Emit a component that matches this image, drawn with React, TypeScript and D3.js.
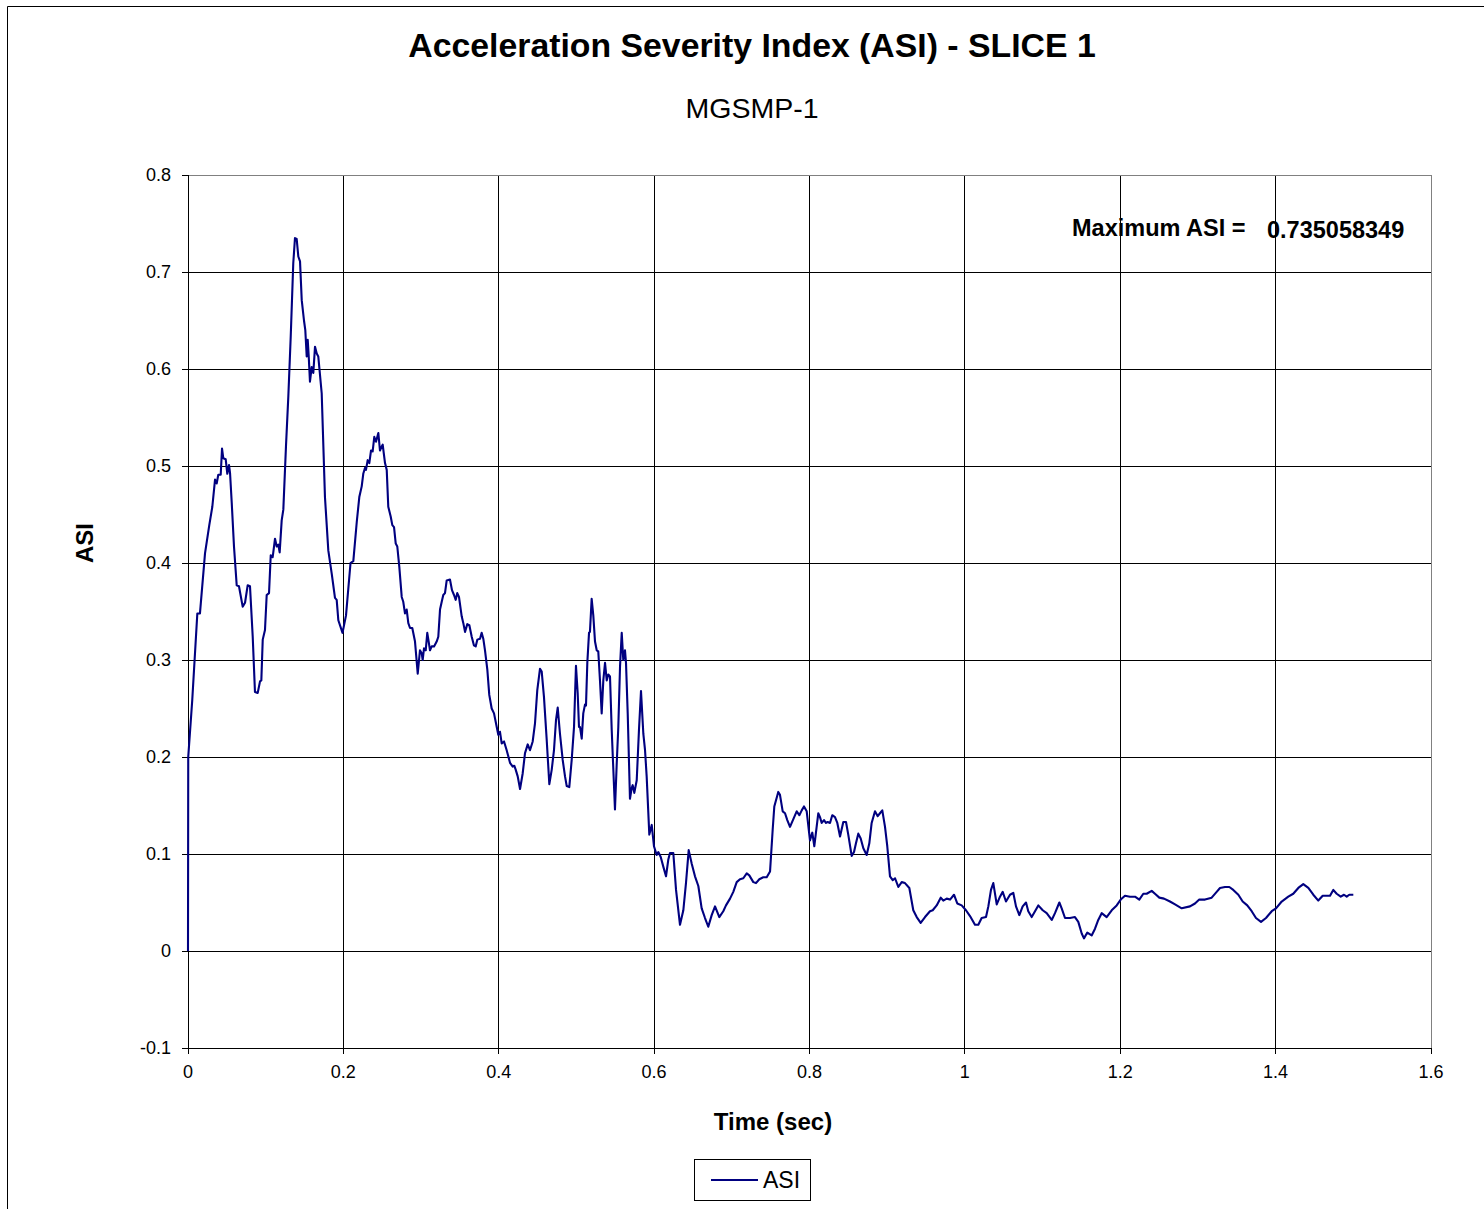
import React from "react";
import * as d3 from "d3";

const timeSec = [
  0, 0.0003, 0.0055, 0.012, 0.0154, 0.0219, 0.0274, 0.0313, 0.0348, 0.0369, 0.039, 0.0421, 0.0438, 0.0454, 0.0485,
  0.0506, 0.0528, 0.0541, 0.0563, 0.0592, 0.0627, 0.0656, 0.0704, 0.0734, 0.0768, 0.0798, 0.0833, 0.0862, 0.0897,
  0.0927, 0.0944, 0.0962, 0.0991, 0.1013, 0.1043, 0.1065, 0.109, 0.112, 0.1142, 0.1162, 0.118, 0.1206, 0.1227,
  0.1261, 0.1291, 0.1322, 0.1355, 0.1377, 0.1399, 0.142, 0.1442, 0.1464, 0.1493, 0.151, 0.1528, 0.1541, 0.1554,
  0.157, 0.1592, 0.1613, 0.1635, 0.1657, 0.1677, 0.1721, 0.1763, 0.1806, 0.185, 0.1892, 0.1914, 0.1935, 0.1989,
  0.2034, 0.2092, 0.2128, 0.2172, 0.2205, 0.2236, 0.2256, 0.2278, 0.2291, 0.2313, 0.2334, 0.2356, 0.2377, 0.2398,
  0.242, 0.245, 0.2471, 0.2493, 0.2506, 0.2536, 0.2558, 0.2578, 0.2609, 0.263, 0.2652, 0.2674, 0.2694, 0.272,
  0.2751, 0.2771, 0.2793, 0.2815, 0.2836, 0.2858, 0.2887, 0.2922, 0.2957, 0.2986, 0.3008, 0.3021, 0.3038, 0.306,
  0.308, 0.3098, 0.3115, 0.3137, 0.3167, 0.3201, 0.3222, 0.3244, 0.3266, 0.3286, 0.3308, 0.333, 0.3372, 0.3398,
  0.3424, 0.3446, 0.3466, 0.3488, 0.3523, 0.3544, 0.3566, 0.3595, 0.3621, 0.3652, 0.3681, 0.3703, 0.3724, 0.3759,
  0.378, 0.3801, 0.3823, 0.3853, 0.3878, 0.3909, 0.3939, 0.3974, 0.3994, 0.4016, 0.4038, 0.4068, 0.4102, 0.4145,
  0.418, 0.42, 0.4218, 0.4244, 0.4274, 0.4308, 0.4338, 0.4373, 0.4402, 0.4437, 0.4467, 0.4496, 0.4531, 0.4553,
  0.4582, 0.4617, 0.4651, 0.4682, 0.4711, 0.4737, 0.4759, 0.4788, 0.4823, 0.4853, 0.4875, 0.4908, 0.4939, 0.4969,
  0.4994, 0.5016, 0.5033, 0.5046, 0.5068, 0.5088, 0.511, 0.5123, 0.514, 0.5162, 0.5174, 0.5196, 0.5217, 0.5239,
  0.5261, 0.5281, 0.5303, 0.5325, 0.5346, 0.5368, 0.539, 0.541, 0.5432, 0.5454, 0.5496, 0.5518, 0.5539, 0.5561,
  0.5583, 0.5603, 0.5625, 0.5638, 0.566, 0.5689, 0.5711, 0.5724, 0.5745, 0.5776, 0.5805, 0.5831, 0.5861, 0.5883,
  0.5904, 0.5938, 0.5969, 0.5998, 0.6033, 0.6054, 0.6085, 0.6118, 0.6153, 0.6182, 0.6204, 0.6247, 0.6282, 0.6333,
  0.6376, 0.641, 0.6445, 0.6484, 0.6526, 0.6569, 0.6612, 0.6655, 0.6697, 0.6741, 0.6784, 0.6839, 0.689, 0.6925,
  0.6977, 0.7019, 0.7063, 0.7105, 0.7148, 0.7192, 0.7225, 0.7277, 0.7311, 0.7354, 0.7405, 0.7449, 0.7492, 0.7526,
  0.7547, 0.7598, 0.762, 0.7655, 0.7685, 0.7714, 0.7749, 0.7792, 0.7835, 0.7869, 0.79, 0.7929, 0.7964, 0.8006,
  0.8036, 0.8062, 0.8113, 0.8135, 0.8157, 0.8187, 0.8212, 0.8234, 0.8264, 0.8293, 0.8328, 0.8358, 0.8393, 0.8435,
  0.847, 0.8499, 0.8543, 0.8573, 0.8598, 0.8628, 0.8659, 0.8693, 0.8736, 0.877, 0.88, 0.8843, 0.8878, 0.8907,
  0.8937, 0.8972, 0.9001, 0.9036, 0.9071, 0.9101, 0.9143, 0.9187, 0.9229, 0.9285, 0.9336, 0.938, 0.9431, 0.9487,
  0.9551, 0.9586, 0.9637, 0.9689, 0.9722, 0.9766, 0.9809, 0.986, 0.9902, 0.9959, 1.0014, 1.0066, 1.013, 1.0173,
  1.0216, 1.0272, 1.0302, 1.0336, 1.0366, 1.041, 1.0452, 1.0487, 1.0529, 1.0581, 1.0623, 1.0658, 1.0701, 1.0744,
  1.0787, 1.0816, 1.086, 1.0903, 1.0945, 1.1002, 1.1053, 1.1118, 1.116, 1.1216, 1.1246, 1.1289, 1.1353, 1.1417,
  1.146, 1.1504, 1.1533, 1.1576, 1.1632, 1.1675, 1.1717, 1.1761, 1.1825, 1.189, 1.1954, 1.2006, 1.2061, 1.2125,
  1.219, 1.2245, 1.2297, 1.234, 1.2405, 1.2447, 1.2503, 1.2563, 1.264, 1.2705, 1.2791, 1.2898, 1.2962, 1.3017,
  1.3091, 1.3177, 1.3241, 1.3284, 1.3348, 1.3404, 1.3455, 1.352, 1.3576, 1.3635, 1.3692, 1.3747, 1.3812, 1.3876,
  1.395, 1.4005, 1.4078, 1.4163, 1.4227, 1.4292, 1.4356, 1.4421, 1.4485, 1.4549, 1.4606, 1.4657, 1.47, 1.4742,
  1.4786, 1.4838, 1.488, 1.4915, 1.4948, 1.5,
];

const asiValues = [
  0, 0.2, 0.259, 0.348, 0.348, 0.41, 0.439, 0.458, 0.486, 0.482, 0.491, 0.491, 0.518, 0.508, 0.507,
  0.492, 0.501, 0.493, 0.462, 0.417, 0.377, 0.376, 0.355, 0.359, 0.377, 0.376, 0.324, 0.267, 0.266,
  0.278, 0.279, 0.321, 0.331, 0.367, 0.369, 0.408, 0.406, 0.425, 0.417, 0.419, 0.411, 0.444, 0.455,
  0.52, 0.571, 0.633, 0.709, 0.735, 0.734, 0.716, 0.711, 0.671, 0.65, 0.64, 0.613, 0.63, 0.613,
  0.587, 0.602, 0.596, 0.623, 0.616, 0.613, 0.575, 0.468, 0.413, 0.389, 0.364, 0.362, 0.341, 0.328,
  0.346, 0.4, 0.402, 0.442, 0.468, 0.479, 0.492, 0.498, 0.496, 0.506, 0.503, 0.516, 0.515, 0.53,
  0.525, 0.534, 0.516, 0.52, 0.522, 0.503, 0.496, 0.458, 0.448, 0.439, 0.437, 0.42, 0.417, 0.396,
  0.365, 0.36, 0.348, 0.352, 0.338, 0.333, 0.333, 0.319, 0.286, 0.31, 0.307, 0.3, 0.312, 0.31,
  0.328, 0.319, 0.31, 0.314, 0.314, 0.319, 0.324, 0.352, 0.36, 0.367, 0.369, 0.382, 0.383, 0.372,
  0.367, 0.362, 0.369, 0.365, 0.345, 0.338, 0.329, 0.337, 0.336, 0.324, 0.315, 0.314, 0.321, 0.322,
  0.328, 0.322, 0.31, 0.29, 0.264, 0.25, 0.245, 0.231, 0.223, 0.226, 0.214, 0.216, 0.207, 0.194,
  0.19, 0.191, 0.187, 0.18, 0.167, 0.183, 0.204, 0.213, 0.207, 0.216, 0.235, 0.269, 0.291, 0.288,
  0.262, 0.218, 0.172, 0.187, 0.207, 0.238, 0.251, 0.224, 0.197, 0.18, 0.17, 0.169, 0.197, 0.231,
  0.294, 0.266, 0.231, 0.231, 0.219, 0.245, 0.254, 0.253, 0.297, 0.328, 0.329, 0.363, 0.346, 0.319,
  0.31, 0.309, 0.279, 0.245, 0.279, 0.297, 0.279, 0.285, 0.283, 0.228, 0.146, 0.192, 0.231, 0.293,
  0.328, 0.3, 0.31, 0.297, 0.245, 0.157, 0.168, 0.171, 0.163, 0.176, 0.228, 0.268, 0.224, 0.207,
  0.18, 0.12, 0.13, 0.108, 0.099, 0.102, 0.097, 0.087, 0.077, 0.094, 0.101, 0.101, 0.063, 0.027,
  0.042, 0.07, 0.104, 0.09, 0.077, 0.067, 0.044, 0.034, 0.025, 0.037, 0.046, 0.035, 0.041, 0.047,
  0.054, 0.061, 0.071, 0.074, 0.075, 0.08, 0.078, 0.071, 0.07, 0.074, 0.076, 0.076, 0.082, 0.125,
  0.149, 0.164, 0.161, 0.144, 0.142, 0.135, 0.128, 0.136, 0.144, 0.14, 0.145, 0.149, 0.144, 0.114,
  0.122, 0.108, 0.142, 0.138, 0.132, 0.135, 0.132, 0.133, 0.132, 0.14, 0.138, 0.132, 0.118, 0.133,
  0.133, 0.12, 0.098, 0.102, 0.111, 0.121, 0.116, 0.106, 0.099, 0.111, 0.132, 0.144, 0.139, 0.142,
  0.145, 0.128, 0.108, 0.077, 0.073, 0.075, 0.066, 0.071, 0.07, 0.065, 0.042, 0.035, 0.029, 0.035,
  0.041, 0.042, 0.047, 0.055, 0.052, 0.054, 0.053, 0.058, 0.049, 0.047, 0.042, 0.036, 0.027, 0.027,
  0.034, 0.035, 0.046, 0.063, 0.07, 0.048, 0.056, 0.061, 0.051, 0.058, 0.06, 0.046, 0.037, 0.046,
  0.05, 0.041, 0.035, 0.041, 0.047, 0.042, 0.039, 0.032, 0.039, 0.05, 0.044, 0.034, 0.034, 0.035,
  0.03, 0.018, 0.013, 0.019, 0.016, 0.023, 0.032, 0.039, 0.035, 0.042, 0.047, 0.053, 0.057, 0.056,
  0.056, 0.053, 0.059, 0.059, 0.062, 0.059, 0.055, 0.054, 0.051, 0.048, 0.044, 0.046, 0.049, 0.053,
  0.053, 0.055, 0.061, 0.065, 0.066, 0.066, 0.063, 0.058, 0.051, 0.047, 0.041, 0.034, 0.03, 0.034,
  0.041, 0.044, 0.051, 0.056, 0.059, 0.065, 0.069, 0.065, 0.058, 0.052, 0.057, 0.057, 0.057, 0.063,
  0.059, 0.056, 0.058, 0.056, 0.058, 0.058,
];

const xTicks = [0, 0.2, 0.4, 0.6, 0.8, 1, 1.2, 1.4, 1.6];
const yTicks = [-0.1, 0, 0.1, 0.2, 0.3, 0.4, 0.5, 0.6, 0.7, 0.8];

const titleText = "Acceleration Severity Index (ASI) - SLICE 1";
const subtitleText = "MGSMP-1";
const xLabel = "Time (sec)";
const yLabel = "ASI";
const seriesName = "ASI";
const maxLabel = "Maximum ASI =";
const maxValueText = "0.735058349";

const FONT = "'Liberation Sans', Arial, Helvetica, sans-serif";

export default function App() {
  const W = 1484;
  const H = 1209;
  const left = 188, right = 1431, top = 175, bottom = 1048;
  const x = d3.scaleLinear().domain([0, 1.6]).range([left, right]);
  const y = d3.scaleLinear().domain([-0.1, 0.8]).range([bottom, top]);
  const pts: [number, number][] = timeSec.map((t, i) => [t, asiValues[i]]);
  const line = d3
    .line<[number, number]>()
    .x((d) => x(d[0]))
    .y((d) => y(d[1]));
  const fmt = (v: number) => (Math.abs(v) < 1e-9 ? "0" : String(+v.toFixed(1)));

  return (
    <svg
      width={W}
      height={H}
      style={{ position: "absolute", left: 0, top: 0, display: "block" }}
      fontFamily={FONT}
    >
      <rect x={0} y={0} width={W} height={H} fill="#fff" />
      {/* outer chart frame */}
      <line x1={7.5} y1={6.5} x2={W} y2={6.5} stroke="#000" strokeWidth={1} />
      <line x1={7.5} y1={6.5} x2={7.5} y2={H} stroke="#000" strokeWidth={1} />

      <text x={752} y={57} textAnchor="middle" fontSize={33.8} fontWeight="bold">
        {titleText}
      </text>
      <text x={752} y={118} textAnchor="middle" fontSize={28.5}>
        {subtitleText}
      </text>

      {/* grid */}
      <g shapeRendering="crispEdges">
        {yTicks.map((v) => (
          <line key={"gy" + v} x1={left} x2={right} y1={y(v)} y2={y(v)} stroke="#000" strokeWidth={1} />
        ))}
        {xTicks.map((v) => (
          <line key={"gx" + v} x1={x(v)} x2={x(v)} y1={top} y2={bottom} stroke="#000" strokeWidth={1} />
        ))}
        <rect x={left} y={top} width={right - left} height={bottom - top} fill="none" stroke="#808080" strokeWidth={1} />
        {/* axes */}
        <line x1={left} x2={left} y1={top} y2={bottom} stroke="#000" strokeWidth={1} />
        <line x1={left} x2={right} y1={bottom} y2={bottom} stroke="#000" strokeWidth={1} />
        {yTicks.map((v) => (
          <line key={"ty" + v} x1={left - 6} x2={left} y1={y(v)} y2={y(v)} stroke="#000" strokeWidth={1} />
        ))}
        {xTicks.map((v) => (
          <line key={"tx" + v} x1={x(v)} x2={x(v)} y1={bottom} y2={bottom + 6} stroke="#000" strokeWidth={1} />
        ))}
      </g>

      {yTicks.map((v) => (
        <text key={"ly" + v} x={171} y={y(v) + 6} textAnchor="end" fontSize={18}>
          {fmt(v)}
        </text>
      ))}
      {xTicks.map((v) => (
        <text key={"lx" + v} x={x(v)} y={1078} textAnchor="middle" fontSize={18}>
          {fmt(v)}
        </text>
      ))}

      <path d={line(pts) || ""} fill="none" stroke="#000080" strokeWidth={2.1} strokeLinejoin="round" />

      <text x={1072} y={236} fontSize={23.5} fontWeight="bold">
        {maxLabel}
      </text>
      <text x={1267} y={238} fontSize={23.5} fontWeight="bold">
        {maxValueText}
      </text>

      <text x={773} y={1130} textAnchor="middle" fontSize={24} fontWeight="bold">
        {xLabel}
      </text>
      <text
        x={0}
        y={0}
        transform="translate(93,543) rotate(-90)"
        textAnchor="middle"
        fontSize={24}
        fontWeight="bold"
      >
        {yLabel}
      </text>

      {/* legend */}
      <rect x={694.5} y={1159.5} width={116} height={41} fill="#fff" stroke="#000" strokeWidth={1} />
      <line x1={711} x2={758} y1={1180} y2={1180} stroke="#000080" strokeWidth={2} />
      <text x={763} y={1188} fontSize={23}>
        {seriesName}
      </text>
    </svg>
  );
}
